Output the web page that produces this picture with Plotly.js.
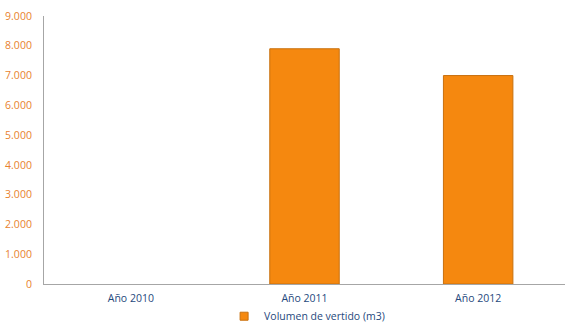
<!DOCTYPE html>
<html>
<head>
<meta charset="utf-8">
<script src="https://cdn.plot.ly/plotly-3.0.1.min.js"></script>
<style>html,body{margin:0;padding:0;background:#fff;}#chart{width:565px;height:322px;}</style>
</head>
<body>
<div id="chart"></div>
<script>
const categories = ['Año 2010', 'Año 2011', 'Año 2012'];
const volumen = [null, 7900, 7000];
const seriesName = 'Volumen de vertido (m3)';
const yTicks = [0, 1000, 2000, 3000, 4000, 5000, 6000, 7000, 8000, 9000];

const barColor = '#F5880F';
const barLine = '#C8700E';

const trace = {
  type: 'bar',
  x: categories,
  y: volumen,
  name: seriesName,
  showlegend: false,
  marker: { color: barColor, line: { color: barLine, width: 1 } },
  width: 0.4,
  hoverinfo: 'skip'
};

// legend entry with a small square key, like the reference
const legendKey = {
  type: 'scatter', mode: 'markers',
  x: [null], y: [null],
  name: seriesName,
  showlegend: true,
  marker: { symbol: 'square', size: 8, color: barColor, line: { color: barLine, width: 1 } },
  hoverinfo: 'skip'
};

const layout = {
  width: 565, height: 322,
  margin: { l: 44, r: 0, t: 16, b: 38 },
  paper_bgcolor: '#ffffff', plot_bgcolor: '#ffffff',
  separators: ',.',
  font: { family: 'Open Sans, Noto Sans, sans-serif', size: 10.5 },
  showlegend: true,
  legend: {
    orientation: 'h', x: 0.505, xanchor: 'center',
    yref: 'container', y: 0.018, yanchor: 'middle',
    font: { size: 10.5, color: '#1F497D' }, itemwidth: 30,
    bgcolor: 'rgba(0,0,0,0)'
  },
  xaxis: {
    type: 'category', showgrid: false, zeroline: false,
    showline: true, linecolor: '#A6A6A6', linewidth: 1,
    ticks: '', tickfont: { color: '#1F497D', size: 10.5 },
    ticklabelstandoff: 4, fixedrange: true
  },
  yaxis: {
    range: [0, 9000], tickvals: yTicks, tickformat: ',.0f',
    showgrid: false, zeroline: false,
    showline: true, linecolor: '#A6A6A6', linewidth: 1,
    ticks: '', tickfont: { color: '#E8822E', size: 10.5 },
    ticklabelstandoff: 9, fixedrange: true
  }
};

Plotly.newPlot('chart', [trace, legendKey], layout, { displayModeBar: false, staticPlot: true });
</script>
</body>
</html>
